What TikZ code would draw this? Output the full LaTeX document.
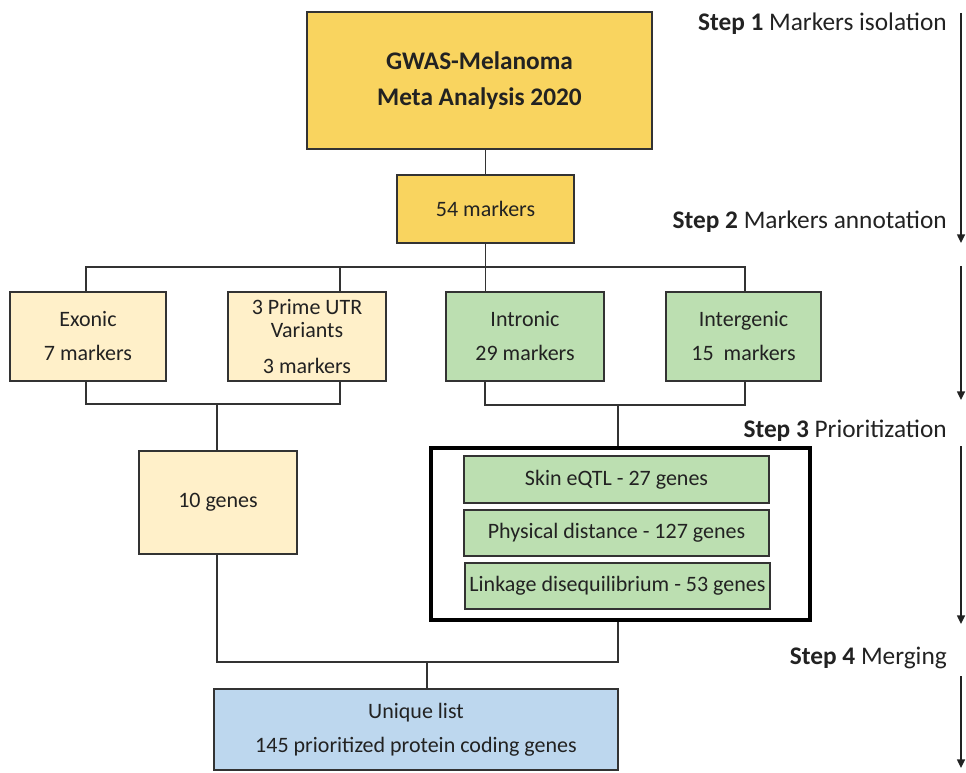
\documentclass[tikz,border=0pt]{standalone}
\usepackage{fontspec}
\setmainfont{Carlito}
\usetikzlibrary{arrows.meta}
\definecolor{goldf}{HTML}{F9D45F}
\definecolor{creamf}{HTML}{FFF0C9}
\definecolor{greenf}{HTML}{BCDFB1}
\definecolor{bluef}{HTML}{BDD7EE}
\definecolor{ink}{HTML}{222222}
\definecolor{edge}{HTML}{333333}
\tikzset{
  box/.style={draw=edge, line width=1.2pt, inner sep=0pt, align=center, text=ink,
    font=\fontsize{16.5pt}{25.5pt}\selectfont},
  gold/.style={box, fill=goldf},
  cream/.style={box, fill=creamf},
  green/.style={box, fill=greenf},
  blue/.style={box, fill=bluef},
  frame/.style={draw=black, line width=2.4pt, inner sep=0pt, fill=white},
  conn/.style={draw=edge, line width=1.1pt},
  steplabel/.style={anchor=east, inner sep=0pt, text=ink, font=\fontsize{19pt}{22pt}\selectfont},
  steparrow/.style={draw=ink, line width=1.1pt, -{Triangle[length=6.5pt,width=6pt]}}
}
\begin{document}
\begin{tikzpicture}[x=0.75pt,y=-0.75pt]
\useasboundingbox (0,0) rectangle (966,773);

% boxes
\node[gold, minimum width=258.75pt, minimum height=102.75pt, font=\fontsize{19pt}{27pt}\selectfont\bfseries] (gwas) at (479.5,80.5) {GWAS-Melanoma\\Meta Analysis 2020};
\node[gold, minimum width=132.75pt, minimum height=51pt] (m54) at (485.5,209) {54 markers};
\node[cream, minimum width=117pt, minimum height=66.75pt] (exonic) at (88,336.5) {Exonic\\7 markers};
\node[cream, minimum width=118.5pt, minimum height=66.75pt, font=\fontsize{16.5pt}{17.5pt}\selectfont] (utr) at (307,336.5) {3 Prime UTR\\Variants\\[9pt]3 markers};
\node[green, minimum width=118.5pt, minimum height=66.75pt] (intronic) at (525,336.5) {Intronic\\29 markers};
\node[green, minimum width=116.25pt, minimum height=66.75pt] (intergenic) at (743.5,336.5) {Intergenic\\15\ \ markers};
\node[cream, minimum width=118.5pt, minimum height=77.25pt] (genes10) at (218,502.5) {10 genes};
\node[frame, minimum width=284.25pt, minimum height=129pt] (frame) at (620.5,534) {};
\node[green, minimum width=228.75pt, minimum height=35.25pt] (skin) at (616.5,479.5) {Skin eQTL - 27 genes};
\node[green, minimum width=228.75pt, minimum height=34.5pt] (phys) at (616.5,533) {Physical distance - 127 genes};
\node[green, minimum width=228.75pt, minimum height=34.5pt] (link) at (617.5,586) {Linkage disequilibrium - 53 genes};
\node[blue, minimum width=303pt, minimum height=60.75pt] (unique) at (416,729.5) {Unique list\\145 prioritized protein coding genes};

% connector coordinates
\coordinate (tl) at (86,267);
\coordinate (tu) at (340,267);
\coordinate (tr) at (745,267);
\coordinate (ll) at (86,404);
\coordinate (lr) at (340,404);
\coordinate (lc) at (217,404);
\coordinate (rl) at (485,405);
\coordinate (rr) at (745,405);
\coordinate (rc) at (618,405);
\coordinate (bl) at (217,662);
\coordinate (br) at (618,662);
\coordinate (bc) at (427,662);

% connectors
\draw[conn] (m54.north) -- (m54.north |- gwas.south);
\draw[conn] (m54.south) -- (intronic.north -| m54.south);
\draw[conn] (exonic.north -| tl) -- (tl) -- (tr) -- (intergenic.north -| tr);
\draw[conn] (tu) -- (utr.north -| tu);
\draw[conn] (exonic.south -| ll) -- (ll) -- (lr) -- (utr.south -| lr);
\draw[conn] (lc) -- (genes10.north -| lc);
\draw[conn] (intronic.south -| rl) -- (rl) -- (rr) -- (intergenic.south -| rr);
\draw[conn] (rc) -- (frame.north -| rc);
\draw[conn] (genes10.south -| bl) -- (bl) -- (br) -- (frame.south -| br);
\draw[conn] (bc) -- (unique.north -| bc);

% step labels
\node[steplabel] (s1) at (947,24) {\textbf{Step 1} Markers isolation};
\node[steplabel] (s2) at (947,222) {\textbf{Step 2} Markers annotation};
\node[steplabel] (s3) at (947,431) {\textbf{Step 3} Prioritization};
\node[steplabel] (s4) at (947,658) {\textbf{Step 4} Merging};

% step arrows
\coordinate (a1s) at (961,13);
\coordinate (a1e) at (961,243);
\coordinate (a2s) at (961,266);
\coordinate (a2e) at (961,400);
\coordinate (a3s) at (961,446);
\coordinate (a3e) at (961,624);
\coordinate (a4s) at (961,676);
\coordinate (a4e) at (961,768);
\draw[steparrow] (a1s) -- (a1e);
\draw[steparrow] (a2s) -- (a2e);
\draw[steparrow] (a3s) -- (a3e);
\draw[steparrow] (a4s) -- (a4e);
\end{tikzpicture}
\end{document}
